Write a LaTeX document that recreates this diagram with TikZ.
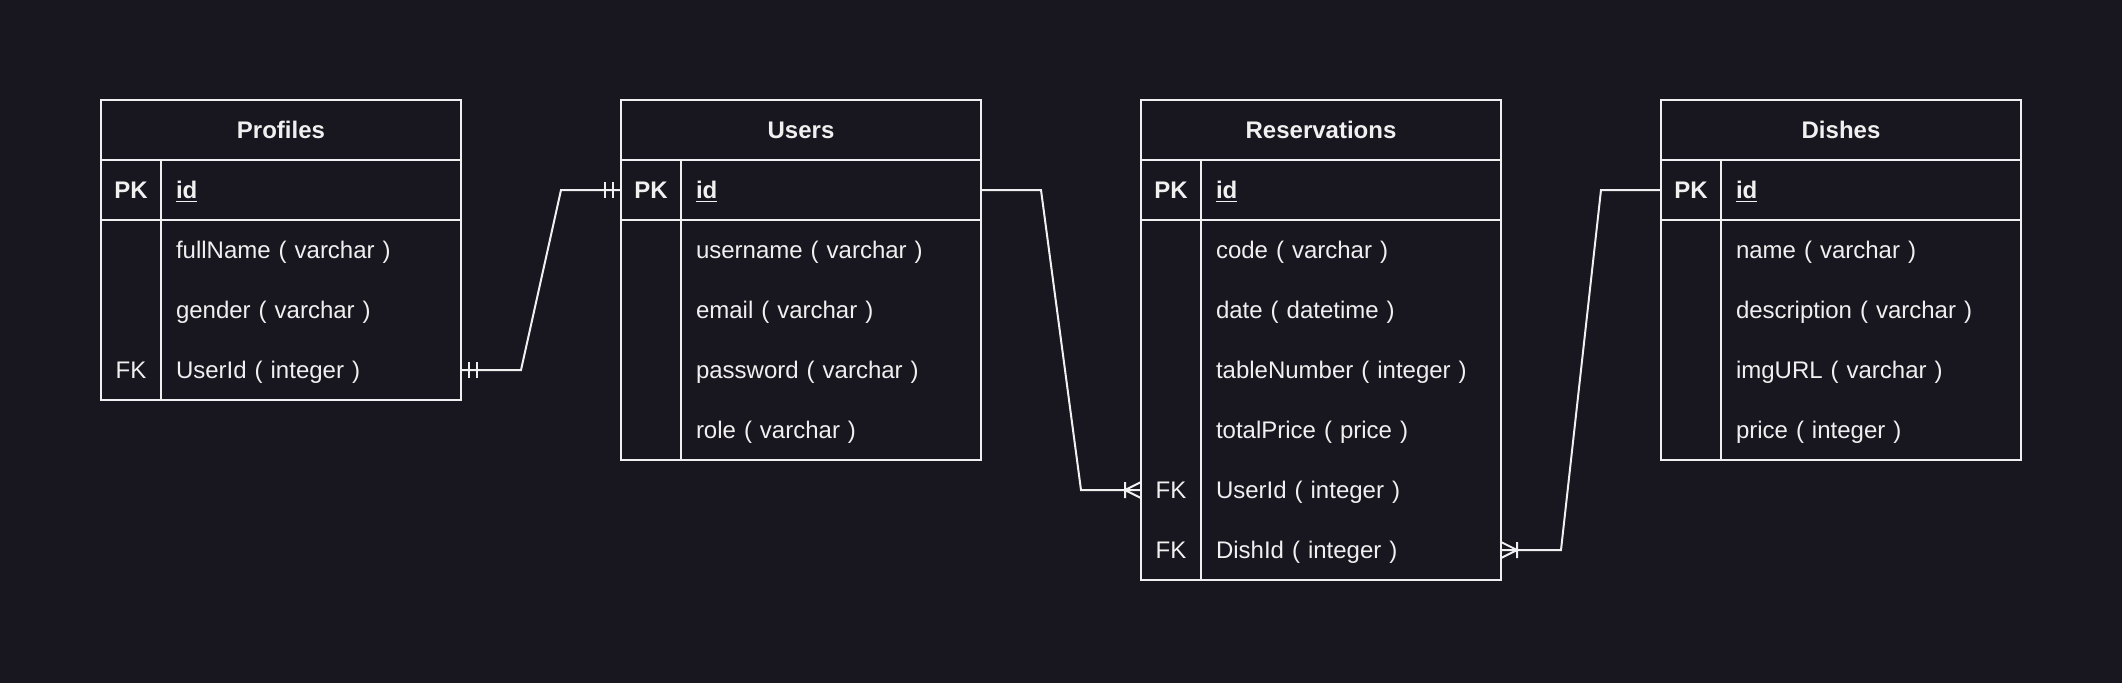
\documentclass[tikz,border=0pt]{standalone}
\usepackage{fontspec}
\setmainfont{Liberation Sans}
\usetikzlibrary{positioning}
\definecolor{bgdark}{HTML}{18161E}
\definecolor{erwhite}{HTML}{F0F0F0}
\tikzset{
  erline/.style={draw=erwhite, line width=1pt},
  ertext/.style={text=erwhite, text height=10.86pt, text depth=2.54pt, font=\fontsize{12pt}{14pt}\selectfont},
  tabletitle/.style={erline, ertext, minimum width=180pt, minimum height=30pt, inner sep=0pt, outer sep=0pt, font=\fontsize{12pt}{14pt}\selectfont\bfseries},
  keycell/.style={ertext, minimum width=30pt, minimum height=30pt, inner sep=0pt, outer sep=0pt},
  fieldcell/.style={ertext, text width=135pt, inner xsep=7.5pt, inner ysep=0pt, minimum height=30pt, outer sep=0pt, align=left},
  mandone/.pic={\draw[erline] (8,-8) -- (8,8) (16,-8) -- (16,8);},
  onemany/.pic={\draw[erline] (16,-8) -- (16,8) (0,-8) -- (16,0) -- (0,8);}
}
\begin{document}
\begin{tikzpicture}[x=0.5pt,y=-0.5pt]
\useasboundingbox (0,0) rectangle (2122,682);
\fill[bgdark] (-4,-4) rectangle (2126,686);

% Profiles
\node[tabletitle] (profiles) at (281,130) {Profiles};
\node[keycell, anchor=north west] (profiles-pk) at (profiles.south west) {\textbf{PK}};
\node[fieldcell, right=0pt of profiles-pk] (profiles-id) {\textbf{\underline{id}}};
\node[fieldcell, below=0pt of profiles-id] (profiles-fullname) {fullName ( varchar )};
\node[fieldcell, below=0pt of profiles-fullname] (profiles-gender) {gender ( varchar )};
\node[fieldcell, below=0pt of profiles-gender] (profiles-userid) {UserId ( integer )};
\node[keycell, left=0pt of profiles-userid] (profiles-fk) {FK};
\draw[erline] (profiles-pk.north west) rectangle (profiles-userid.south east);
\draw[erline] (profiles-pk.north east) -- (profiles-pk.east |- profiles-userid.south);
\draw[erline] (profiles-pk.south west) -- (profiles-id.south east);

% Users
\node[tabletitle] (users) at (801,130) {Users};
\node[keycell, anchor=north west] (users-pk) at (users.south west) {\textbf{PK}};
\node[fieldcell, right=0pt of users-pk] (users-id) {\textbf{\underline{id}}};
\node[fieldcell, below=0pt of users-id] (users-username) {username ( varchar )};
\node[fieldcell, below=0pt of users-username] (users-email) {email ( varchar )};
\node[fieldcell, below=0pt of users-email] (users-password) {password ( varchar )};
\node[fieldcell, below=0pt of users-password] (users-role) {role ( varchar )};
\draw[erline] (users-pk.north west) rectangle (users-role.south east);
\draw[erline] (users-pk.north east) -- (users-pk.east |- users-role.south);
\draw[erline] (users-pk.south west) -- (users-id.south east);

% Reservations
\node[tabletitle] (res) at (1321,130) {Reservations};
\node[keycell, anchor=north west] (res-pk) at (res.south west) {\textbf{PK}};
\node[fieldcell, right=0pt of res-pk] (res-id) {\textbf{\underline{id}}};
\node[fieldcell, below=0pt of res-id] (res-code) {code ( varchar )};
\node[fieldcell, below=0pt of res-code] (res-date) {date ( datetime )};
\node[fieldcell, below=0pt of res-date] (res-table) {tableNumber ( integer )};
\node[fieldcell, below=0pt of res-table] (res-price) {totalPrice ( price )};
\node[fieldcell, below=0pt of res-price] (res-userid) {UserId ( integer )};
\node[fieldcell, below=0pt of res-userid] (res-dishid) {DishId ( integer )};
\node[keycell, left=0pt of res-userid] (res-fk1) {FK};
\node[keycell, left=0pt of res-dishid] (res-fk2) {FK};
\draw[erline] (res-pk.north west) rectangle (res-dishid.south east);
\draw[erline] (res-pk.north east) -- (res-pk.east |- res-dishid.south);
\draw[erline] (res-pk.south west) -- (res-id.south east);

% Dishes
\node[tabletitle] (dishes) at (1841,130) {Dishes};
\node[keycell, anchor=north west] (dishes-pk) at (dishes.south west) {\textbf{PK}};
\node[fieldcell, right=0pt of dishes-pk] (dishes-id) {\textbf{\underline{id}}};
\node[fieldcell, below=0pt of dishes-id] (dishes-name) {name ( varchar )};
\node[fieldcell, below=0pt of dishes-name] (dishes-desc) {description ( varchar )};
\node[fieldcell, below=0pt of dishes-desc] (dishes-img) {imgURL ( varchar )};
\node[fieldcell, below=0pt of dishes-img] (dishes-price) {price ( integer )};
\draw[erline] (dishes-pk.north west) rectangle (dishes-price.south east);
\draw[erline] (dishes-pk.north east) -- (dishes-pk.east |- dishes-price.south);
\draw[erline] (dishes-pk.south west) -- (dishes-id.south east);

% relations
\draw[erline] (profiles-userid.east) -- ++(60,0) -- ([xshift=-30pt]users-pk.west) -- (users-pk.west);
\pic at (profiles-userid.east) {mandone};
\pic[xscale=-1] at (users-pk.west) {mandone};

\draw[erline] (users-id.east) -- ++(60,0) -- ([xshift=-30pt]res-fk1.west) -- (res-fk1.west);
\pic[xscale=-1] at (res-fk1.west) {onemany};

\draw[erline] (dishes-pk.west) -- ++(-60,0) -- ([xshift=30pt]res-dishid.east) -- (res-dishid.east);
\pic at (res-dishid.east) {onemany};
\end{tikzpicture}
\end{document}
